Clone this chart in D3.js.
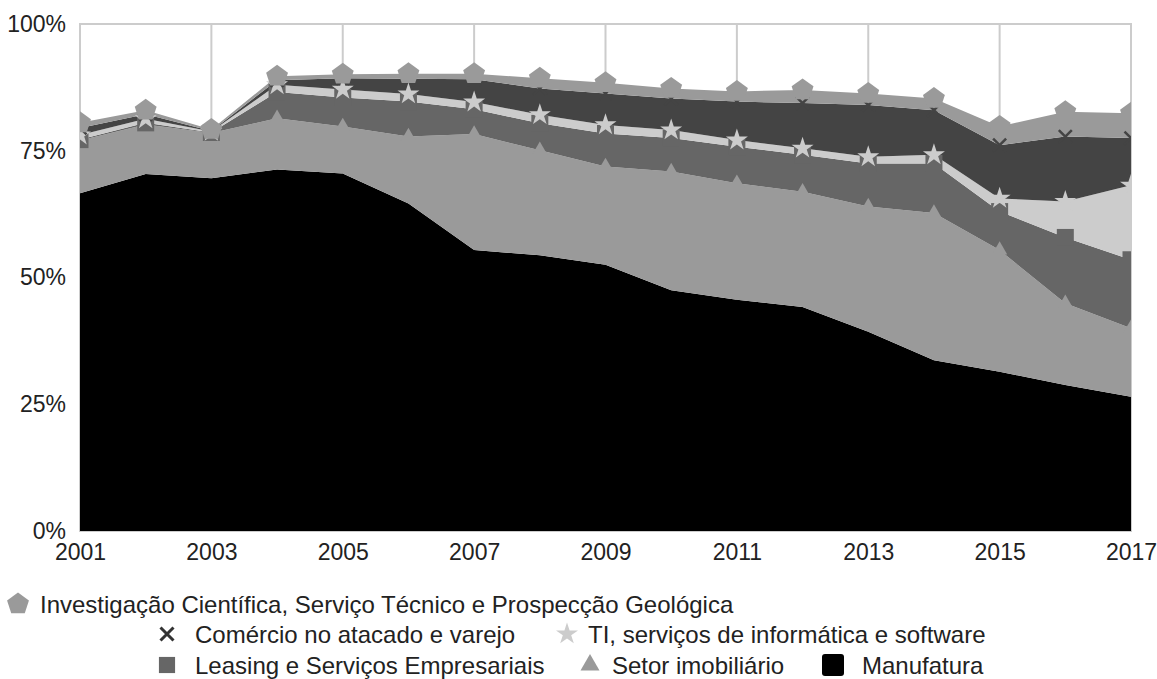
<!DOCTYPE html>
<html>
<head>
<meta charset="utf-8">
<script src="https://cdn.jsdelivr.net/npm/d3@7"></script>
<style>
  body { margin: 0; background: #fff; }
  svg text { font-family: "Liberation Sans", Arial, Helvetica, sans-serif; fill: #222; }
</style>
</head>
<body>
<svg id="chart" width="1157" height="679"></svg>
<script>
// Share of each sector, % (stacked from Manufatura upward)
const years = [2001, 2002, 2003, 2004, 2005, 2006, 2007, 2008, 2009, 2010, 2011, 2012, 2013, 2014, 2015, 2016, 2017];
const manufatura   = [66.6, 70.4, 69.6, 71.3, 70.5, 64.6, 55.4, 54.4, 52.5, 47.5, 45.6, 44.2, 39.3, 33.7, 31.4, 28.8, 26.5];
const imobiliario  = [10.4,  9.8,  8.9, 10.1,  9.3, 13.2, 22.9, 20.7, 19.4, 23.4, 23.0, 22.7, 24.7, 29.0, 24.0, 16.1, 13.5];
const leasing      = [ 0.2,  0.3,  0.1,  5.2,  5.7,  6.9,  4.9,  5.3,  6.5,  6.6,  7.2,  7.3,  8.5,  9.8,  7.6, 13.0, 13.5];
const ti           = [ 0.9,  0.8,  0.2,  1.4,  1.6,  1.5,  1.4,  1.7,  1.7,  1.6,  1.3,  1.3,  1.3,  1.7,  2.6,  7.1, 14.7];
const comercio     = [ 1.4,  0.9,  0.1,  0.9,  2.2,  3.0,  4.5,  5.2,  6.2,  6.2,  7.6,  8.9, 10.2,  8.8, 10.5, 12.8,  9.3];
const investigacao = [ 1.0,  0.8,  0.3,  0.8,  0.8,  1.0,  1.1,  2.0,  2.1,  2.0,  2.0,  2.6,  2.3,  2.3,  3.7,  4.9,  4.9];

const seriesNames = [
  "Manufatura",
  "Setor imobiliário",
  "Leasing e Serviços Empresariais",
  "TI, serviços de informática e software",
  "Comércio no atacado e varejo",
  "Investigação Científica, Serviço Técnico e Prospecção Geológica"
];
const seriesValues = [manufatura, imobiliario, leasing, ti, comercio, investigacao];
const seriesColors = ["#000000", "#9a9a9a", "#666666", "#cccccc", "#444444", "#9a9a9a"];
const seriesSymbols = [null, "triangle", "square", "star", "cross", "pentagon"];

const yTickValues = [0, 25, 50, 75, 100];
const xTickYears = [2001, 2003, 2005, 2007, 2009, 2011, 2013, 2015, 2017];

// Table for the stack generator
const table = years.map((yr, i) => {
  const row = { year: yr };
  seriesNames.forEach((n, k) => { row[n] = seriesValues[k][i]; });
  return row;
});

const svg = d3.select("#chart");
const W = 1157, H = 679;
const margin = { left: 80, right: 26, top: 24, bottom: 148 };
const x = d3.scaleLinear().domain([2001, 2017]).range([margin.left, W - margin.right]);
const y = d3.scaleLinear().domain([0, 100]).range([H - margin.bottom, margin.top]);

svg.append("defs").append("clipPath").attr("id", "plot-clip")
  .append("rect")
  .attr("x", x(2001)).attr("y", y(100) - 14)
  .attr("width", x(2017) - x(2001)).attr("height", y(0) - y(100) + 14);

// Frame and vertical grid
const grid = svg.append("g").attr("stroke", "#cccccc").attr("stroke-width", 2).attr("fill", "none");
grid.append("rect")
  .attr("x", x(2001)).attr("y", y(100))
  .attr("width", x(2017) - x(2001)).attr("height", y(0) - y(100));
grid.selectAll("line").data(xTickYears.slice(1, -1)).join("line")
  .attr("x1", d => x(d)).attr("x2", d => x(d))
  .attr("y1", y(100)).attr("y2", y(0));

// Stacked areas
const stack = d3.stack().keys(seriesNames);
const layers = stack(table);
const area = d3.area()
  .x(d => x(d.data.year))
  .y0(d => y(d[0]))
  .y1(d => y(d[1]));

svg.append("g").selectAll("path").data(layers).join("path")
  .attr("d", area)
  .attr("fill", (d, i) => seriesColors[i]);

// Marker shapes
function pentagonPath(r) {
  const pts = d3.range(5).map(k => {
    const a = -Math.PI / 2 + k * 2 * Math.PI / 5;
    return [r * Math.cos(a), r * Math.sin(a)];
  });
  return "M" + pts.map(p => p.join(",")).join("L") + "Z";
}
function symbolPath(kind, scale = 1) {
  switch (kind) {
    case "triangle": return d3.symbol(d3.symbolTriangle, 100 * scale * scale)();
    case "square":   return d3.symbol(d3.symbolSquare, 17 * 17 * scale * scale)();
    case "star":     return d3.symbol(d3.symbolStar, 150 * scale * scale)();
    case "pentagon": return pentagonPath(11.5 * scale);
    case "cross": {
      const s = 6.5 * scale;
      return `M${-s},${-s}L${s},${s}M${s},${-s}L${-s},${s}`;
    }
  }
  return null;
}

const markers = svg.append("g").attr("clip-path", "url(#plot-clip)");
layers.forEach((layer, i) => {
  const kind = seriesSymbols[i];
  if (!kind) return;
  const g = markers.append("g");
  g.selectAll("path").data(layer).join("path")
    .attr("transform", d => `translate(${x(d.data.year)},${y(d[1])})`)
    .attr("d", symbolPath(kind))
    .attr("fill", kind === "cross" ? "none" : seriesColors[i])
    .attr("stroke", kind === "cross" ? seriesColors[i] : "none")
    .attr("stroke-width", kind === "cross" ? 2.5 : 0);
});

// Axes
const axisFont = 23;
const yAxis = svg.append("g")
  .attr("transform", `translate(${margin.left},0)`)
  .call(d3.axisLeft(y).tickValues(yTickValues).tickFormat(d => d + "%").tickSize(0).tickPadding(14));
yAxis.select(".domain").remove();
yAxis.selectAll("text").attr("font-size", axisFont).attr("font-family", null).attr("fill", "#222");

const xAxis = svg.append("g")
  .attr("transform", `translate(0,${y(0)})`)
  .call(d3.axisBottom(x).tickValues(xTickYears).tickFormat(d3.format("d")).tickSize(0).tickPadding(13));
xAxis.select(".domain").remove();
xAxis.selectAll("text").attr("font-size", axisFont).attr("font-family", null).attr("fill", "#222");

// Legend
const legendFont = 24;
const legendItems = [
  { s: 5, sym: "pentagon", cx: 18,  tx: 40,  cy: 604 },
  { s: 4, sym: "cross",    cx: 167, tx: 195, cy: 634 },
  { s: 3, sym: "star",     cx: 567, tx: 588, cy: 634 },
  { s: 2, sym: "square",   cx: 167, tx: 195, cy: 665 },
  { s: 1, sym: "triangle", cx: 590, tx: 612, cy: 665 },
  { s: 0, sym: "box",      cx: 833, tx: 862, cy: 665 }
];
const legend = svg.append("g");
legendItems.forEach(it => {
  const g = legend.append("g");
  if (it.sym === "box") {
    g.append("rect").attr("x", it.cx - 11).attr("y", it.cy - 11)
      .attr("width", 22).attr("height", 22).attr("rx", 3).attr("fill", "#000");
  } else if (it.sym === "cross") {
    g.append("path").attr("transform", `translate(${it.cx},${it.cy})`)
      .attr("d", symbolPath("cross", 1)).attr("fill", "none")
      .attr("stroke", "#333").attr("stroke-width", 3);
  } else {
    const sc = it.sym === "square" ? 0.95 : it.sym === "triangle" ? 1.25 : 1;
    g.append("path").attr("transform", `translate(${it.cx},${it.cy})`)
      .attr("d", symbolPath(it.sym, sc))
      .attr("fill", seriesColors[it.s]);
  }
  g.append("text").attr("x", it.tx).attr("y", it.cy)
    .attr("dominant-baseline", "central")
    .attr("font-size", legendFont)
    .attr("fill", "#333")
    .text(seriesNames[it.s]);
});
</script>
</body>
</html>
